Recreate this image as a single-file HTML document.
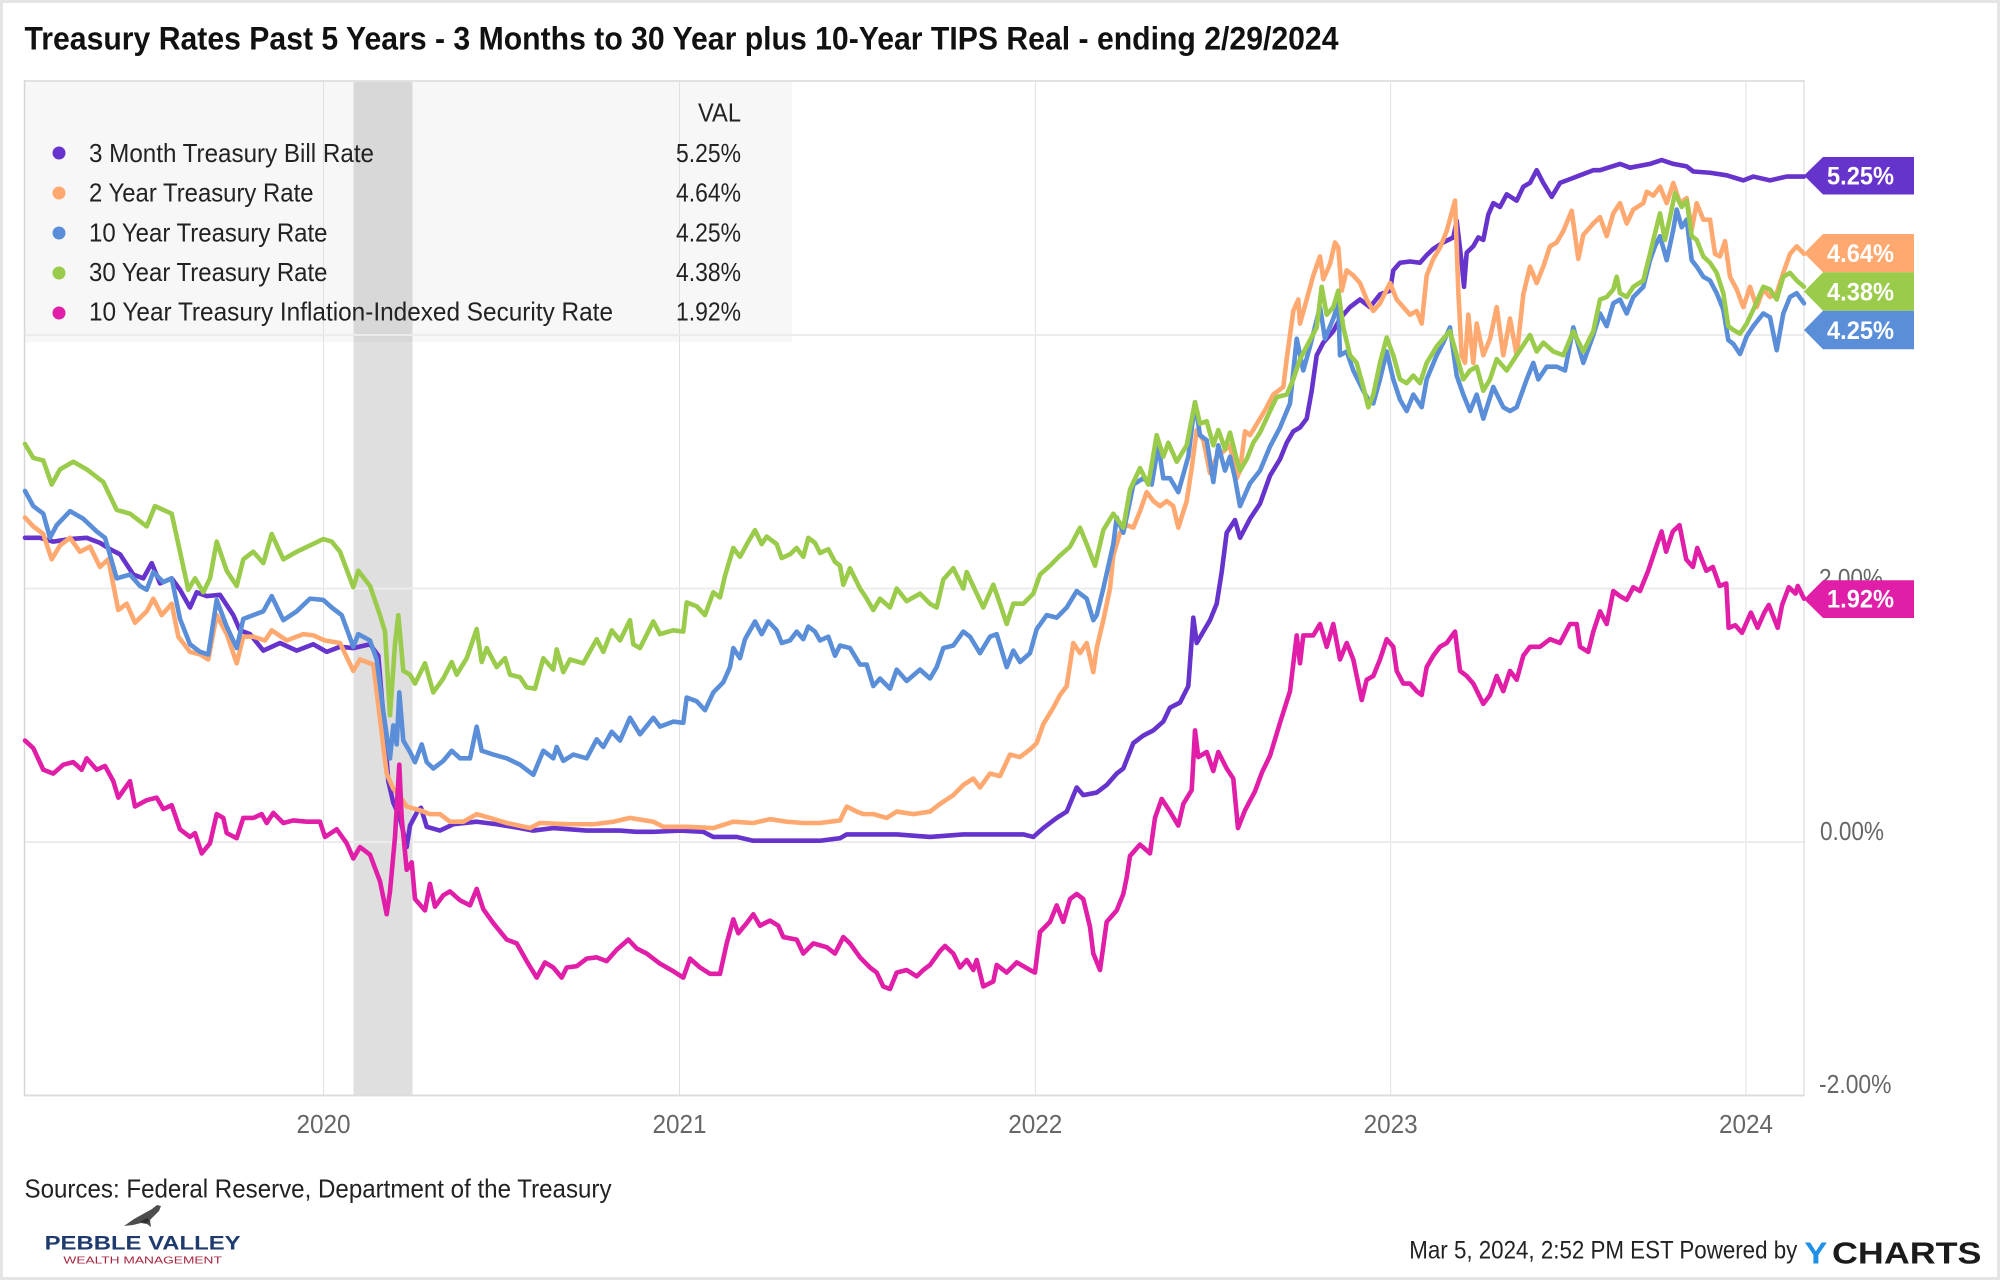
<!DOCTYPE html>
<html>
<head>
<meta charset="utf-8">
<style>
  html,body{margin:0;padding:0;background:#fff;}
  svg{display:block;}
  text{font-family:"Liberation Sans",Arial,sans-serif;}
  .ln{fill:none;stroke-width:4.6;stroke-linejoin:round;stroke-linecap:round;vector-effect:non-scaling-stroke;}
</style>
</head>
<body>
<svg width="2000" height="1281" viewBox="0 0 2000 1281" xmlns="http://www.w3.org/2000/svg">
  <rect x="0" y="0" width="2000" height="1281" fill="#ffffff"/>
  <rect x="1.5" y="1.5" width="1997" height="1277" fill="none" stroke="#e4e4e4" stroke-width="3"/>

  <text x="24.5" y="49.5" font-size="32" font-weight="bold" fill="#111" textLength="1314" lengthAdjust="spacingAndGlyphs">Treasury Rates Past 5 Years - 3 Months to 30 Year plus 10-Year TIPS Real - ending 2/29/2024</text>

  <rect x="353.5" y="80" width="59" height="1016" fill="#dfdfdf"/>

  <rect x="24" y="80" width="768" height="262" fill="#000" fill-opacity="0.032"/>

  <g stroke="#e0e0e0" stroke-width="1">
    <line x1="323.5" y1="80" x2="323.5" y2="1096"/>
    <line x1="679.5" y1="80" x2="679.5" y2="1096"/>
    <line x1="1035.3" y1="80" x2="1035.3" y2="1096"/>
    <line x1="1390.6" y1="80" x2="1390.6" y2="1096"/>
    <line x1="1746" y1="80" x2="1746" y2="1096"/>
  </g>
  <g stroke="#ececec" stroke-width="2">
    <line x1="24" y1="335" x2="1804" y2="335"/>
    <line x1="24" y1="588.5" x2="1804" y2="588.5"/>
    <line x1="24" y1="842" x2="1804" y2="842"/>
  </g>
  <line x1="24" y1="81" x2="1804" y2="81" stroke="#e2e2e2" stroke-width="2"/>
  <line x1="24" y1="1095.5" x2="1804" y2="1095.5" stroke="#dcdcdc" stroke-width="2"/>
  <line x1="24.5" y1="80" x2="24.5" y2="1096" stroke="#d6d6d6" stroke-width="1.5"/>
  <line x1="1804" y1="80" x2="1804" y2="1096" stroke="#d6d6d6" stroke-width="1"/>

  <g transform="translate(0,842) scale(1,-126.75)">
    <polyline class="ln" stroke="#6633cc" points="25,2.40 40,2.40 53.3,2.37 70,2.39 86.7,2.40 100,2.36 110,2.31 120,2.27 133.3,2.11 143.3,2.08 151.7,2.20 160,2.04 171.7,2.08 180,1.99 190,1.85 196.7,1.97 206.7,1.94 220,1.95 233.3,1.79 240,1.67 250,1.64 263.3,1.51 280,1.57 296.7,1.51 313.3,1.56 326.7,1.50 340,1.54 353.3,1.53 370,1.56 378.3,1.47 383.3,1.00 388.3,0.48 393.3,0.31 400,0.19 406.7,-0.04 410,0.13 418,0.25 421,0.27 426.7,0.12 440,0.09 453.3,0.14 476.7,0.16 496.7,0.14 520,0.11 533.3,0.09 553.3,0.11 586.7,0.09 620,0.09 636.7,0.08 653.3,0.08 680,0.09 703.3,0.08 713.3,0.04 736.7,0.04 753.3,0.01 786.7,0.01 820,0.01 840,0.03 846.7,0.06 896.7,0.06 930,0.04 963.3,0.06 996.7,0.06 1023.3,0.06 1033.3,0.04 1043.3,0.11 1056.7,0.19 1066.7,0.24 1076.7,0.43 1083.3,0.37 1096.7,0.39 1106.7,0.45 1116.7,0.54 1123.3,0.58 1133.3,0.78 1143.3,0.84 1153.3,0.88 1163.3,0.95 1170,1.06 1180,1.10 1188.3,1.23 1193.3,1.77 1196.7,1.57 1203.3,1.66 1210,1.75 1216.7,1.88 1221.7,2.13 1226.7,2.44 1235,2.54 1240,2.40 1250,2.55 1260,2.67 1270,2.89 1280,3.02 1286.7,3.15 1293.3,3.24 1300,3.27 1306.7,3.34 1311.7,3.56 1316.7,3.84 1323.3,3.94 1333.3,4.03 1340,4.13 1350,4.22 1360,4.28 1370,4.22 1380,4.32 1390,4.35 1393.3,4.51 1400,4.57 1410,4.58 1420,4.57 1426.7,4.63 1433.3,4.68 1443.3,4.73 1453.3,4.77 1456.7,4.90 1461.7,4.57 1464,4.38 1466.7,4.65 1473.3,4.70 1478.3,4.77 1483.3,4.75 1488.3,4.95 1493.3,5.04 1500,5.01 1506.7,5.11 1516.7,5.06 1523.3,5.17 1530,5.20 1536.7,5.30 1543.3,5.20 1551.7,5.09 1560,5.20 1570,5.23 1580,5.26 1593.3,5.30 1600,5.30 1620,5.35 1630,5.32 1650,5.35 1661.7,5.38 1673.3,5.35 1686.7,5.33 1693.3,5.29 1710,5.28 1726.7,5.26 1743.3,5.22 1753.3,5.25 1770,5.22 1786.7,5.25 1804,5.25"/>
    <polyline class="ln" stroke="#ffa86f" points="25,2.56 33.3,2.49 43.3,2.43 51.7,2.23 60,2.34 70,2.40 80,2.29 90,2.33 100,2.17 108.3,2.23 118.3,1.83 126.7,1.88 135,1.73 146.7,1.82 153.3,1.92 161.7,1.79 171.7,1.88 178.3,1.62 190,1.50 200,1.48 208.3,1.44 216.7,1.79 226.7,1.64 236.7,1.41 243.3,1.62 253.3,1.62 265,1.59 271.7,1.67 286.7,1.59 303.3,1.64 313.3,1.63 325,1.59 340,1.57 353.3,1.35 360,1.44 373.3,1.40 381.7,0.86 386.7,0.54 393.3,0.42 400,0.36 406.7,0.28 420,0.25 430,0.22 440,0.22 450,0.16 463.3,0.16 476.7,0.22 490,0.19 506.7,0.15 530,0.11 540,0.15 570,0.14 593.3,0.14 613.3,0.16 630,0.19 653.3,0.16 663.3,0.12 686.7,0.12 713.3,0.11 733.3,0.16 753.3,0.15 770,0.18 786.7,0.16 803.3,0.15 820,0.15 840,0.17 846.7,0.28 856.7,0.24 863.3,0.22 873.3,0.22 886.7,0.19 896.7,0.24 913.3,0.22 930,0.24 940,0.30 953.3,0.37 963.3,0.45 973.3,0.50 980,0.43 990,0.54 1000,0.52 1010,0.69 1020,0.67 1030,0.73 1036.7,0.78 1043.3,0.93 1053.3,1.06 1060,1.16 1066.7,1.23 1073.3,1.57 1080,1.49 1086.7,1.57 1093.3,1.34 1096.7,1.53 1103.3,1.75 1110,2.00 1113.3,2.26 1120,2.44 1126.7,2.50 1133.3,2.48 1140,2.61 1146.7,2.76 1153.3,2.69 1160,2.65 1166.7,2.69 1173.3,2.65 1178.3,2.48 1186.7,2.69 1191.7,2.95 1196.7,3.25 1203.3,3.17 1210,2.91 1216.7,3.04 1223.3,3.08 1230,3.13 1236.7,2.87 1240,2.93 1245,3.24 1250,3.21 1260,3.34 1266.7,3.43 1273.3,3.53 1283.3,3.59 1286.7,3.81 1293.3,4.19 1298.3,4.28 1300,4.09 1306.7,4.28 1313.3,4.47 1320,4.62 1323.3,4.44 1330,4.56 1335,4.73 1338.3,4.69 1341.7,4.35 1346.7,4.51 1353.3,4.47 1360,4.41 1366.7,4.28 1373.3,4.19 1380,4.25 1390,4.41 1396.7,4.28 1403.3,4.22 1410,4.16 1416.7,4.19 1421.7,4.09 1426.7,4.47 1433.3,4.60 1440,4.69 1446.7,4.82 1455,5.06 1458.3,4.35 1461.7,3.84 1465,3.78 1468.3,4.16 1473.3,3.78 1476.7,4.09 1483.3,3.84 1490,3.97 1496.7,4.22 1503.3,3.84 1510,4.13 1516.7,3.84 1523.3,4.32 1530,4.54 1536.7,4.41 1543.3,4.54 1550,4.70 1556.7,4.73 1563.3,4.82 1571.7,4.98 1578.3,4.60 1583.3,4.79 1593.3,4.88 1600,4.93 1606.7,4.78 1613.3,4.96 1620,5.04 1626.7,4.88 1633.3,4.99 1643.3,5.04 1646.7,5.13 1653.3,5.10 1660,5.17 1666.7,5.04 1673.3,5.20 1680,5.04 1686.7,5.08 1691.7,4.83 1696.7,5.04 1703.3,4.91 1710,4.91 1715,4.64 1720,4.62 1725,4.74 1730,4.46 1736.7,4.36 1743.3,4.22 1750,4.38 1756.7,4.22 1763.3,4.36 1770,4.30 1776.7,4.33 1783.3,4.49 1790,4.64 1796.7,4.70 1804,4.64"/>
    <polyline class="ln" stroke="#5a8ed8" points="25,2.77 33.3,2.65 43.3,2.59 50,2.40 56.7,2.50 70,2.61 83.3,2.55 96.7,2.45 105,2.40 116.7,2.08 130,2.11 140,2.02 146.7,1.99 153.3,2.13 163.3,2.05 171.7,2.08 180,1.76 190,1.56 200,1.50 208.3,1.48 216.7,1.91 226.7,1.70 236.7,1.53 243.3,1.76 253.3,1.79 263.3,1.82 271.7,1.94 283.3,1.75 296.7,1.82 310,1.92 323.3,1.91 331.7,1.85 341.7,1.79 353.3,1.54 358.3,1.64 370,1.59 376.7,1.44 383.3,1.03 390,0.66 393.3,0.92 396.7,0.77 399.3,1.18 403.3,0.80 410,0.71 415,0.63 421.7,0.77 426.7,0.63 433.3,0.58 443.3,0.64 451.7,0.72 460,0.66 470,0.66 476.7,0.91 481.7,0.72 493.3,0.69 506.7,0.66 520,0.61 533.3,0.53 543.3,0.72 553.3,0.66 556.7,0.75 563.3,0.64 573.3,0.69 586.7,0.66 596.7,0.81 603.3,0.75 611.7,0.87 620,0.80 630,0.98 640,0.85 653.3,0.98 660,0.91 673.3,0.95 683.3,0.94 686.7,1.14 696.7,1.11 705,1.04 713.3,1.18 723.3,1.26 730,1.38 733.3,1.53 740,1.45 745,1.60 755,1.74 761.7,1.64 768.3,1.74 776.7,1.67 781.7,1.57 790,1.59 796.7,1.66 803.3,1.60 808.3,1.70 815,1.66 820,1.59 828.3,1.62 835,1.47 840,1.55 850,1.53 860,1.40 866.7,1.40 873.3,1.23 880,1.29 890,1.21 896.7,1.36 906.7,1.27 920,1.36 930,1.29 936.7,1.38 943.3,1.53 953.3,1.55 963.3,1.66 970,1.62 980,1.49 990,1.62 996.7,1.64 1006.7,1.38 1013.3,1.51 1020,1.42 1030,1.49 1036.7,1.68 1046.7,1.79 1056.7,1.77 1066.7,1.85 1076.7,1.98 1086.7,1.92 1093.3,1.75 1096.7,1.79 1103.3,2.00 1113.3,2.35 1116.7,2.56 1123.3,2.44 1130,2.69 1133.3,2.82 1143.3,2.87 1151.7,2.82 1158.3,3.13 1163.3,2.87 1170,2.87 1178.3,2.76 1188.3,3.04 1195,3.47 1200,3.21 1206.7,3.17 1213.3,2.84 1218.3,3.13 1225,2.93 1230,3.04 1235,2.87 1240,2.65 1250,2.83 1260,2.93 1270,3.12 1280,3.27 1290,3.46 1296.7,3.97 1303.3,3.72 1310,3.91 1320,4.22 1325,3.97 1333.3,4.13 1338.3,4.25 1340,3.84 1346.7,3.87 1353.3,3.72 1363.3,3.56 1368.3,3.49 1373.3,3.46 1380,3.65 1386.7,3.87 1393.3,3.65 1400,3.49 1406.7,3.40 1413.3,3.53 1421.7,3.43 1426.7,3.65 1436.7,3.84 1443.3,3.94 1450,4.06 1456.7,3.68 1463.3,3.53 1470,3.40 1476.7,3.53 1483.3,3.34 1493.3,3.59 1503.3,3.43 1510,3.40 1516.7,3.43 1526.7,3.65 1533.3,3.78 1538.3,3.65 1546.7,3.75 1556.7,3.75 1565,3.72 1573.3,4.06 1583.3,3.78 1593.3,4.00 1600,4.17 1606.7,4.07 1613.3,4.25 1620,4.28 1626.7,4.17 1633.3,4.30 1643.3,4.38 1650,4.59 1655,4.70 1660,4.78 1666.7,4.59 1673.3,4.83 1676.7,4.99 1681.7,4.85 1686.7,4.91 1691.7,4.59 1696.7,4.54 1703.3,4.46 1710,4.43 1716.7,4.33 1723.3,4.20 1728.3,3.96 1733.3,3.93 1740,3.85 1746.7,3.99 1753.3,4.07 1763.3,4.17 1770,4.14 1776.7,3.88 1783.3,4.17 1790,4.30 1796.7,4.33 1804,4.25"/>
    <polyline class="ln" stroke="#9acb4a" points="25,3.14 33.3,3.03 43.3,3.01 51.7,2.82 60,2.94 73.3,3.00 86.7,2.94 103.3,2.84 116.7,2.62 130,2.59 146.7,2.49 155,2.65 171.7,2.59 180,2.29 188.3,1.99 195,2.08 203.3,1.97 210,2.08 216.7,2.37 226.7,2.14 236.7,2.02 243.3,2.23 253.3,2.29 263.3,2.20 271.7,2.43 283.3,2.23 296.7,2.29 310,2.34 323.3,2.39 331.7,2.37 340,2.29 353.3,2.01 358.3,2.14 370,2.02 380,1.79 385,1.66 390,1.00 395,1.56 398.3,1.79 403.3,1.35 410,1.32 415,1.25 425,1.41 433.3,1.18 443.3,1.29 451.7,1.42 456.7,1.32 466.7,1.45 476.7,1.68 481.7,1.42 486.7,1.53 496.7,1.38 505,1.45 510,1.32 520,1.30 526.7,1.22 535,1.21 543.3,1.45 553.3,1.36 556.7,1.52 563.3,1.34 570,1.44 583.3,1.41 596.7,1.60 603.3,1.50 611.7,1.67 620,1.59 630,1.75 633.3,1.56 640,1.53 653.3,1.74 660,1.64 673.3,1.67 683.3,1.66 686.7,1.89 696.7,1.86 705,1.79 713.3,1.97 720,1.93 725,2.10 733.3,2.32 740,2.25 748.3,2.37 755,2.46 761.7,2.35 766.7,2.41 776.7,2.35 781.7,2.24 790,2.27 796.7,2.32 803.3,2.25 808.3,2.40 815,2.36 820,2.28 828.3,2.31 835,2.21 840,2.18 843.3,2.03 850,2.16 860,2.00 866.7,1.92 873.3,1.83 880,1.92 890,1.85 896.7,2.00 906.7,1.90 920,1.96 930,1.88 936.7,1.85 943.3,2.07 953.3,2.16 963.3,2.00 966.7,2.13 976.7,1.96 983.3,1.85 993.3,2.03 1000,1.88 1006.7,1.72 1013.3,1.88 1023.3,1.88 1033.3,1.96 1040,2.11 1050,2.18 1060,2.26 1070,2.33 1080,2.48 1086.7,2.35 1095,2.18 1103.3,2.46 1113.3,2.59 1123.3,2.48 1130,2.78 1140,2.95 1148.3,2.82 1156.7,3.21 1163.3,3.04 1168.3,3.15 1176.7,3.00 1186.7,3.13 1195,3.47 1200,3.30 1206.7,3.32 1213.3,3.13 1218.3,3.25 1225,3.10 1230,3.23 1236.7,3.02 1240,2.93 1246.7,3.02 1253.3,3.15 1260,3.23 1270,3.40 1276.7,3.51 1286.7,3.53 1293.3,3.65 1300,3.81 1306.7,3.91 1316.7,4.06 1321.7,4.38 1326.7,4.16 1333.3,4.22 1338.3,4.35 1343.3,4.06 1350,3.84 1356.7,3.78 1363.3,3.59 1368.3,3.43 1373.3,3.53 1380,3.78 1386.7,3.98 1393.3,3.84 1400,3.65 1406.7,3.62 1413.3,3.68 1420,3.62 1426.7,3.78 1436.7,3.91 1443.3,3.97 1450,4.03 1456.7,3.84 1463.3,3.65 1470,3.72 1476.7,3.75 1483.3,3.56 1490,3.65 1496.7,3.81 1506.7,3.72 1516.7,3.84 1530,4.00 1536.7,3.87 1543.3,3.94 1553.3,3.87 1563.3,3.84 1573.3,4.03 1583.3,3.87 1593.3,4.03 1600,4.28 1606.7,4.30 1613.3,4.36 1616.7,4.46 1620,4.33 1626.7,4.30 1633.3,4.38 1643.3,4.43 1650,4.64 1653.3,4.75 1660,4.96 1665,4.75 1670,4.93 1675,5.12 1681.7,5.01 1686.7,5.06 1691.7,4.78 1696.7,4.75 1703.3,4.62 1710,4.57 1716.7,4.49 1723.3,4.33 1728.3,4.07 1733.3,4.04 1740,4.01 1746.7,4.09 1753.3,4.20 1763.3,4.38 1770,4.36 1776.7,4.28 1783.3,4.46 1790,4.49 1796.7,4.43 1804,4.38"/>
    <polyline class="ln" stroke="#e01ea8" points="25,0.80 33.3,0.74 43.3,0.57 53.3,0.54 63.3,0.61 73.3,0.63 81.7,0.57 86.7,0.66 96.7,0.57 105,0.60 113.3,0.48 118.3,0.35 130,0.48 135,0.28 146.7,0.33 156.7,0.35 163.3,0.26 171.7,0.29 180,0.10 190,0.04 195,0.07 201.7,-0.09 210,-0.01 216.7,0.22 223.3,0.19 226.7,0.07 236.7,0.03 243.3,0.19 253.3,0.19 261.7,0.22 266.7,0.15 273.3,0.23 283.3,0.15 293.3,0.17 306.7,0.16 320,0.16 325,0.04 336.7,0.10 346.7,-0.01 353.3,-0.13 360,-0.04 370,-0.10 380,-0.31 386.7,-0.57 390,-0.39 395,0.04 399.3,0.61 401.7,0.19 406.7,-0.22 411.7,-0.16 415,-0.45 425,-0.54 430,-0.33 435,-0.51 443.3,-0.42 450,-0.39 460,-0.46 470,-0.50 476.7,-0.37 483.3,-0.53 493.3,-0.64 506.7,-0.77 516.7,-0.80 526.7,-0.94 536.7,-1.07 545,-0.95 553.3,-0.99 561.7,-1.07 566.7,-0.99 576.7,-0.98 586.7,-0.92 596.7,-0.91 606.7,-0.94 616.7,-0.85 628.3,-0.77 636.7,-0.84 646.7,-0.88 660,-0.96 673.3,-1.02 683.3,-1.07 690,-0.92 700,-0.99 710,-1.04 720,-1.04 726.7,-0.80 733.3,-0.61 738.3,-0.72 746.7,-0.64 753.3,-0.57 760,-0.66 770,-0.62 778.3,-0.66 783.3,-0.75 796.7,-0.77 803.3,-0.88 813.3,-0.80 826.7,-0.83 835,-0.88 843.3,-0.75 850,-0.80 860,-0.91 870,-0.99 876.7,-1.03 883.3,-1.14 890,-1.16 896.7,-1.03 906.7,-1.01 916.7,-1.06 923.3,-1.01 930,-0.97 940,-0.86 945,-0.82 953.3,-0.88 960,-0.99 966.7,-0.93 973.3,-1.01 976.7,-0.93 983.3,-1.14 993.3,-1.10 996.7,-0.97 1006.7,-1.03 1016.7,-0.95 1030,-1.01 1035,-1.03 1040,-0.71 1050,-0.63 1056.7,-0.50 1063.3,-0.63 1070,-0.45 1076.7,-0.41 1083.3,-0.45 1090,-0.67 1093.3,-0.88 1100,-1.01 1106.7,-0.63 1116.7,-0.54 1123.3,-0.41 1126.7,-0.28 1130,-0.11 1140,-0.02 1150,-0.09 1155,0.19 1161.7,0.34 1170,0.24 1178.3,0.13 1183.3,0.30 1191.7,0.41 1195,0.88 1198.3,0.67 1206.7,0.71 1213.3,0.56 1218.3,0.71 1226.7,0.58 1233.3,0.50 1238,0.11 1245,0.25 1255,0.40 1262,0.55 1270,0.68 1280,0.94 1290,1.19 1296.7,1.63 1300,1.41 1303.3,1.63 1313.3,1.63 1320,1.72 1326.7,1.54 1333.3,1.72 1340,1.44 1346.7,1.57 1353.3,1.44 1361.7,1.12 1366.7,1.28 1373.3,1.31 1380,1.44 1386.7,1.60 1393.3,1.54 1396.7,1.35 1403.3,1.25 1410,1.25 1416.7,1.19 1421.7,1.16 1426.7,1.38 1433.3,1.47 1440,1.54 1446.7,1.57 1455,1.66 1460,1.35 1466.7,1.31 1473.3,1.25 1483.3,1.09 1490,1.16 1496.7,1.31 1503.3,1.19 1510,1.35 1516.7,1.28 1523.3,1.47 1530,1.54 1540,1.54 1550,1.60 1560,1.57 1570,1.72 1576.7,1.72 1580,1.54 1588.3,1.50 1593.3,1.66 1600,1.82 1606.7,1.72 1613.3,1.98 1620,1.94 1626.7,1.91 1633.3,2.01 1640,1.98 1648.2,2.14 1657.1,2.35 1661.6,2.45 1666.1,2.29 1672.8,2.45 1679.5,2.50 1686.2,2.23 1692.9,2.17 1697.3,2.32 1706.3,2.14 1712.9,2.17 1719.6,2.02 1726.3,2.04 1728.6,1.69 1735.3,1.71 1742,1.65 1750.9,1.81 1757.6,1.69 1764.3,1.81 1768.8,1.87 1777.7,1.69 1782.1,1.87 1788.8,2.01 1795.5,1.96 1797.8,2.02 1804,1.92"/>
  </g>

  <g font-size="26" fill="#222">
    <text x="741" y="121.7" text-anchor="end" textLength="43" lengthAdjust="spacingAndGlyphs">VAL</text>
    <circle cx="59" cy="153" r="6.5" fill="#6633cc"/>
    <text x="89" y="162" textLength="285" lengthAdjust="spacingAndGlyphs">3 Month Treasury Bill Rate</text>
    <text x="741" y="162" text-anchor="end" textLength="65" lengthAdjust="spacingAndGlyphs">5.25%</text>
    <circle cx="59" cy="193" r="6.5" fill="#ffa86f"/>
    <text x="89" y="201.7" textLength="224.5" lengthAdjust="spacingAndGlyphs">2 Year Treasury Rate</text>
    <text x="741" y="201.7" text-anchor="end" textLength="65" lengthAdjust="spacingAndGlyphs">4.64%</text>
    <circle cx="59" cy="233" r="6.5" fill="#5a8ed8"/>
    <text x="89" y="241.3" textLength="238.5" lengthAdjust="spacingAndGlyphs">10 Year Treasury Rate</text>
    <text x="741" y="241.3" text-anchor="end" textLength="65" lengthAdjust="spacingAndGlyphs">4.25%</text>
    <circle cx="59" cy="273" r="6.5" fill="#9acb4a"/>
    <text x="89" y="281" textLength="238.5" lengthAdjust="spacingAndGlyphs">30 Year Treasury Rate</text>
    <text x="741" y="281" text-anchor="end" textLength="65" lengthAdjust="spacingAndGlyphs">4.38%</text>
    <circle cx="59" cy="313" r="6.5" fill="#e01ea8"/>
    <text x="89" y="320.7" textLength="524" lengthAdjust="spacingAndGlyphs">10 Year Treasury Inflation-Indexed Security Rate</text>
    <text x="741" y="320.7" text-anchor="end" textLength="65" lengthAdjust="spacingAndGlyphs">1.92%</text>
  </g>

  <g font-size="26" fill="#666">
    <text x="1819" y="587" textLength="64" lengthAdjust="spacingAndGlyphs">2.00%</text>
    <text x="1820" y="840" textLength="64" lengthAdjust="spacingAndGlyphs">0.00%</text>
    <text x="1819" y="1093" textLength="72.5" lengthAdjust="spacingAndGlyphs">-2.00%</text>
  </g>

  <g font-size="26" fill="#666" text-anchor="middle">
    <text x="323.5" y="1133" textLength="54" lengthAdjust="spacingAndGlyphs">2020</text>
    <text x="679.5" y="1133" textLength="54" lengthAdjust="spacingAndGlyphs">2021</text>
    <text x="1035.3" y="1133" textLength="54" lengthAdjust="spacingAndGlyphs">2022</text>
    <text x="1390.6" y="1133" textLength="54" lengthAdjust="spacingAndGlyphs">2023</text>
    <text x="1746" y="1133" textLength="54" lengthAdjust="spacingAndGlyphs">2024</text>
  </g>

  <polygon points="1804,175.5 1823,157 1914,157 1914,194.5 1823,194.5" fill="#6633cc"/>
  <polygon points="1804,253.2 1823,234 1914,234 1914,272.3 1823,272.3" fill="#ffa86f"/>
  <polygon points="1804,291.5 1823,272.3 1914,272.3 1914,310.7 1823,310.7" fill="#9acb4a"/>
  <polygon points="1804,330 1823,310.7 1914,310.7 1914,349.3 1823,349.3" fill="#5a8ed8"/>
  <polygon points="1804,599.2 1823,580.3 1914,580.3 1914,618 1823,618" fill="#e01ea8"/>
  <g font-size="25" font-weight="bold" fill="#ffffff">
    <text x="1827" y="184.5" textLength="67" lengthAdjust="spacingAndGlyphs">5.25%</text>
    <text x="1827" y="262" textLength="67" lengthAdjust="spacingAndGlyphs">4.64%</text>
    <text x="1827" y="300.3" textLength="67" lengthAdjust="spacingAndGlyphs">4.38%</text>
    <text x="1827" y="338.8" textLength="67" lengthAdjust="spacingAndGlyphs">4.25%</text>
    <text x="1827" y="607.7" textLength="67" lengthAdjust="spacingAndGlyphs">1.92%</text>
  </g>

  <text x="24.5" y="1197.5" font-size="26" fill="#222" textLength="587" lengthAdjust="spacingAndGlyphs">Sources: Federal Reserve, Department of the Treasury</text>

  <path d="M124,1226 L134,1219 L143,1214 L152,1209 L157,1205 L161,1206 L159,1211 L154,1216 L150,1220 L151,1227 L147,1224 L141,1223 L133,1225 Z" fill="#4d4d4d"/>
  <path d="M140,1222 L147,1218 L150,1221 L146,1223 Z" fill="#2f2f2f"/>
  <text x="44.6" y="1249.3" font-size="19" font-weight="bold" fill="#1f3b6e" textLength="196" lengthAdjust="spacingAndGlyphs">PEBBLE VALLEY</text>
  <text x="63.4" y="1263.3" font-size="10" fill="#a5243f" textLength="158.5" lengthAdjust="spacingAndGlyphs">WEALTH MANAGEMENT</text>

  <text x="1409.3" y="1258.3" font-size="25" fill="#222" textLength="388" lengthAdjust="spacingAndGlyphs">Mar 5, 2024, 2:52 PM EST Powered by</text>
  <text x="1804.4" y="1263.3" font-size="31" font-weight="bold" fill="#1e90e8" textLength="23" lengthAdjust="spacingAndGlyphs">Y</text>
  <text x="1832" y="1263.3" font-size="31" font-weight="bold" fill="#1b1b1b" textLength="149.5" lengthAdjust="spacingAndGlyphs">CHARTS</text>
</svg>
</body>
</html>
